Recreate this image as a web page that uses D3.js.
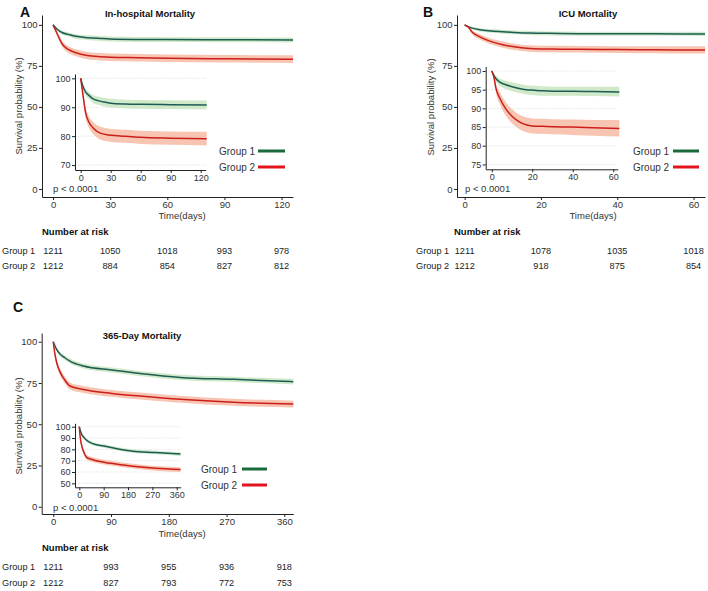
<!DOCTYPE html>
<html><head><meta charset="utf-8">
<script src="https://cdn.jsdelivr.net/npm/d3@7"></script>
<style>body{margin:0;background:#fff}svg{display:block;font-family:"Liberation Sans",Arial,sans-serif}</style>
</head><body>
<svg id="c" width="708" height="591"></svg>
<script>
// ---------- data ----------
const groups = ["Group 1", "Group 2"];
const pText = "p < 0.0001";

// Panel A: In-hospital
const A_title = "In-hospital Mortality";
const A_time = [0, 2, 5, 8, 12, 18, 25, 30, 45, 60, 90, 126];
const A_g1 = [100, 97.5, 95.2, 94.2, 93.0, 92.2, 91.7, 91.4, 91.1, 91.0, 90.9, 90.8];
const A_g1_hi = [100, 98.3, 96.3, 95.4, 94.3, 93.6, 93.2, 92.9, 92.6, 92.5, 92.4, 92.3];
const A_g1_lo = [100, 96.6, 94.0, 92.9, 91.6, 90.8, 90.2, 89.9, 89.6, 89.5, 89.4, 89.3];
const A_g2 = [100, 95, 88, 85, 83, 81.3, 80.6, 80.3, 80.0, 79.6, 79.3, 79.1];
const A_g2_hi = [100, 96.2, 89.8, 87.0, 85.1, 83.5, 82.8, 82.5, 82.2, 81.9, 81.6, 81.5];
const A_g2_lo = [100, 93.7, 86.2, 83.0, 80.9, 79.1, 78.3, 78.0, 77.7, 77.3, 77.0, 76.8];
const A_xticks = [0, 30, 60, 90, 120];
const A_inset_yticks = [70, 80, 90, 100];
const A_risk_g1 = [1211, 1050, 1018, 993, 978];
const A_risk_g2 = [1212, 884, 854, 827, 812];

// Panel B: ICU
const B_title = "ICU Mortality";
const B_time = [0, 1, 2, 4, 7, 10, 13, 17, 20, 25, 30, 40, 50, 63];
const B_g1 = [100, 98.8, 98.0, 97.0, 96.3, 95.8, 95.4, 95.0, 94.9, 94.7, 94.6, 94.6, 94.5, 94.4];
const B_g1_hi = [100, 99.4, 98.8, 98.0, 97.4, 97.0, 96.6, 96.2, 96.1, 95.9, 95.8, 95.8, 95.8, 95.8];
const B_g1_lo = [100, 98.2, 97.2, 96.0, 95.2, 94.6, 94.2, 93.8, 93.6, 93.4, 93.4, 93.4, 93.3, 93.2];
const B_g2 = [100, 98.5, 95.5, 92.7, 89.8, 87.9, 86.6, 85.6, 85.3, 85.2, 85.1, 85.0, 84.8, 84.6];
const B_g2_hi = [100, 99.2, 96.7, 94.3, 91.6, 89.8, 88.5, 87.6, 87.3, 87.2, 87.1, 87.0, 86.9, 86.9];
const B_g2_lo = [100, 97.8, 94.3, 91.1, 88.0, 86.0, 84.7, 83.6, 83.3, 83.2, 83.1, 82.9, 82.7, 82.5];
const B_xticks = [0, 20, 40, 60];
const B_inset_yticks = [75, 80, 85, 90, 95, 100];
const B_risk_g1 = [1211, 1078, 1035, 1018];
const B_risk_g2 = [1212, 918, 875, 854];

// Panel C: 365-day
const C_title = "365-Day Mortality";
const C_time = [0, 2, 5, 10, 18, 26, 47, 91, 135, 198, 281, 374];
const C_g1 = [100, 98, 95.5, 92.8, 90.3, 88.3, 85.3, 82.9, 80.8, 78.4, 77.2, 75.8];
const C_g1_hi = [100, 98.8, 96.6, 94.1, 91.7, 89.8, 86.8, 84.4, 82.3, 80.0, 78.8, 77.5];
const C_g1_lo = [100, 97.2, 94.4, 91.5, 88.9, 86.8, 83.8, 81.4, 79.3, 76.8, 75.6, 74.1];
const C_g2 = [100, 94, 87.9, 82.2, 76.8, 73.2, 71.1, 68.7, 67.1, 65.1, 63.3, 62.2];
const C_g2_hi = [100, 95.3, 89.7, 84.2, 78.9, 75.3, 73.2, 70.8, 69.2, 67.2, 65.4, 64.3];
const C_g2_lo = [100, 92.7, 86.1, 80.2, 74.7, 71.1, 69.0, 66.6, 65.0, 63.0, 61.2, 60.1];
const C_xticks = [0, 90, 180, 270, 360];
const C_inset_yticks = [50, 60, 70, 80, 90, 100];
const C_risk_g1 = [1211, 993, 955, 936, 918];
const C_risk_g2 = [1212, 827, 793, 772, 753];

const main_yticks = [0, 25, 50, 75, 100];

// ---------- styles ----------
const lineCol = ["#1d5c55", "#cc1f1a"];
const legCol = ["#1b6b3a", "#e3141c"];
const bandCol = ["#c8e6bf", "#f6bba4"];
const txtCol = "#333";

const svg = d3.select("#c");

function series(time, s, lo, hi) {
  return time.map((t, i) => ({t, s: s[i], lo: lo[i], hi: hi[i]}));
}

function drawCurves(g, x, y, data) {
  data.forEach((d, k) => {
    g.append("path").datum(d)
      .attr("fill", bandCol[k]).attr("opacity", 0.85)
      .attr("d", d3.area().x(p => x(p.t)).y0(p => y(p.lo)).y1(p => y(p.hi)).curve(d3.curveMonotoneX));
  });
  data.forEach((d, k) => {
    g.append("path").datum(d)
      .attr("fill", "none").attr("stroke", lineCol[k]).attr("stroke-width", 1.5)
      .attr("d", d3.line().x(p => x(p.t)).y(p => y(p.s)).curve(d3.curveMonotoneX));
  });
}

function styleAxis(a, fs) {
  a.selectAll("path.domain").attr("stroke", "#222").attr("stroke-width", 1);
  a.selectAll(".tick line").attr("stroke", "#222");
  a.selectAll(".tick text").attr("fill", txtCol).attr("font-size", fs).attr("font-family", "Liberation Sans, Arial, sans-serif");
}

function panel(P) {
  const g = svg.append("g");
  g.append("text").attr("x", P.letter[0]).attr("y", P.letter[1]).text(P.letterText)
    .attr("font-weight", "bold").attr("font-size", 14).attr("fill", "#111");
  g.append("text").attr("x", P.titlePos[0]).attr("y", P.titlePos[1]).text(P.title)
    .attr("text-anchor", "middle").attr("dominant-baseline", "central")
    .attr("font-weight", "bold").attr("font-size", 9.5).attr("fill", "#111");

  const x = d3.scaleLinear().domain(P.xdom).range(P.xr);
  const y = d3.scaleLinear().domain(P.ydom).range(P.yr);
  const data = [series(P.time, P.g1, P.g1lo, P.g1hi), series(P.time, P.g2, P.g2lo, P.g2hi)];

  drawCurves(g, x, y, data);

  const ax = g.append("g").attr("transform", `translate(0,${P.yr[0]})`)
    .call(d3.axisBottom(x).tickValues(P.xticks).tickSize(3).tickPadding(1).tickSizeOuter(0));
  styleAxis(ax, 9.5);
  const ay = g.append("g").attr("transform", `translate(${P.xr[0]},0)`)
    .call(d3.axisLeft(y).tickValues(main_yticks).tickSize(3).tickPadding(1.5).tickSizeOuter(0));
  styleAxis(ay, 9.5);

  g.append("text").attr("x", P.xlabPos[0]).attr("y", P.xlabPos[1]).text("Time(days)")
    .attr("text-anchor", "middle").attr("dominant-baseline", "central")
    .attr("font-size", 9.5).attr("fill", txtCol);
  g.append("text").attr("transform", `translate(${P.ylabPos[0]},${P.ylabPos[1]}) rotate(-90)`)
    .text("Survival probability (%)").attr("text-anchor", "middle").attr("dominant-baseline", "central")
    .attr("font-size", 9.5).attr("fill", txtCol);

  // inset
  const xi = d3.scaleLinear().domain(P.ixdom).range(P.ixr);
  const yi = d3.scaleLinear().domain(P.iydom).range(P.iyr);
  const gi = g.append("g");
  gi.selectAll("line.grid").data(P.iyticks).join("line")
    .attr("x1", P.ixr[0]).attr("x2", P.ixr[1]).attr("y1", d => yi(d)).attr("y2", d => yi(d))
    .attr("stroke", "#d9d9d9").attr("stroke-width", 0.7).attr("stroke-dasharray", "1.5,1.5");
  drawCurves(gi, xi, yi, data);
  const iax = gi.append("g").attr("transform", `translate(0,${P.iyr[0]})`)
    .call(d3.axisBottom(xi).tickValues(P.xticks).tickSize(3).tickPadding(1.5).tickSizeOuter(0));
  styleAxis(iax, 9);
  const iay = gi.append("g").attr("transform", `translate(${P.ixr[0]},0)`)
    .call(d3.axisLeft(yi).tickValues(P.iyticks).tickSize(3).tickPadding(1.5).tickSizeOuter(0));
  styleAxis(iay, 9);

  g.append("text").attr("x", P.pPos[0]).attr("y", P.pPos[1]).text(pText)
    .attr("dominant-baseline", "central").attr("font-size", 9.5).attr("fill", txtCol);

  groups.forEach((name, k) => {
    const ly = P.leg[1] + k * 16;
    g.append("text").attr("x", P.leg[0]).attr("y", ly).text(name)
      .attr("dominant-baseline", "central").attr("font-size", 10).attr("fill", txtCol);
    g.append("line").attr("x1", P.leg[2]).attr("x2", P.leg[3]).attr("y1", ly).attr("y2", ly)
      .attr("stroke", legCol[k]).attr("stroke-width", 3);
  });

  g.append("text").attr("x", P.nar[0]).attr("y", P.nar[1]).text("Number at risk")
    .attr("dominant-baseline", "central").attr("font-weight", "bold").attr("font-size", 9.5).attr("fill", "#111");
  [P.risk1, P.risk2].forEach((row, k) => {
    const ry = P.rows[k];
    g.append("text").attr("x", P.rowLabX).attr("y", ry).text(groups[k])
      .attr("dominant-baseline", "central").attr("font-size", 9.2).attr("fill", "#222");
    row.forEach((v, i) => {
      g.append("text").attr("x", x(P.xticks[i])).attr("y", ry).text(v)
        .attr("text-anchor", "middle").attr("dominant-baseline", "central")
        .attr("font-size", 9.2).attr("fill", "#222");
    });
  });
}

panel({
  letterText: "A", letter: [20, 17], title: A_title, titlePos: [150, 13],
  time: A_time, g1: A_g1, g1lo: A_g1_lo, g1hi: A_g1_hi, g2: A_g2, g2lo: A_g2_lo, g2hi: A_g2_hi,
  xdom: [-5.8, 126], xr: [42, 293], ydom: [-4.9, 106], yr: [197, 15], xticks: A_xticks,
  xlabPos: [182, 215], ylabPos: [18, 106],
  ixdom: [-5.7, 125], ixr: [75, 205.7], iydom: [68.3, 101.5], iyr: [170, 74], iyticks: A_inset_yticks,
  pPos: [53, 188], leg: [219, 151, 258, 285],
  nar: [42, 231], rows: [251, 266], rowLabX: 2, risk1: A_risk_g1, risk2: A_risk_g2
});

panel({
  letterText: "B", letter: [423, 17], title: B_title, titlePos: [588, 13],
  time: B_time, g1: B_g1, g1lo: B_g1_lo, g1hi: B_g1_hi, g2: B_g2, g2lo: B_g2_lo, g2hi: B_g2_hi,
  xdom: [-2, 63], xr: [457, 705], ydom: [-4.9, 106], yr: [197, 15], xticks: B_xticks,
  xlabPos: [593, 215], ylabPos: [430, 107],
  ixdom: [-3, 62.2], ixr: [485.7, 617.7], iydom: [73.7, 101.2], iyr: [169.3, 66.5], iyticks: B_inset_yticks,
  pPos: [465, 188], leg: [633, 151, 673, 699],
  nar: [454, 231], rows: [251, 266], rowLabX: 416, risk1: B_risk_g1, risk2: B_risk_g2
});

panel({
  letterText: "C", letter: [13, 312], title: C_title, titlePos: [142, 335],
  time: C_time, g1: C_g1, g1lo: C_g1_lo, g1hi: C_g1_hi, g2: C_g2, g2lo: C_g2_lo, g2hi: C_g2_hi,
  xdom: [-18, 374], xr: [41.7, 293.3], ydom: [-4.4, 105.3], yr: [514, 333], xticks: C_xticks,
  xlabPos: [182, 533.5], ylabPos: [18, 426],
  ixdom: [-15.9, 374.7], ixr: [75, 180.7], iydom: [46.5, 103], iyr: [487.3, 423.3], iyticks: C_inset_yticks,
  pPos: [53, 507], leg: [201, 469, 242, 267],
  nar: [42, 547], rows: [567, 583], rowLabX: 2, risk1: C_risk_g1, risk2: C_risk_g2
});
</script>
</body></html>
